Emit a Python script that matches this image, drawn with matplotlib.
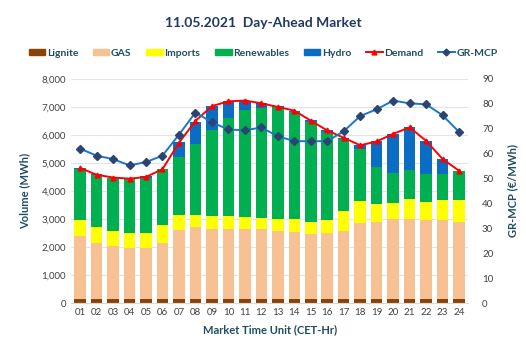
import matplotlib.pyplot as plt
import numpy as np
from matplotlib.lines import Line2D
from matplotlib.patches import Patch

hours = ["%02d" % h for h in range(1, 25)]

# cumulative tops (MWh)
lignite = [150] * 24
gas_top = [2410, 2150, 2030, 1950, 1950, 2150, 2620, 2700, 2660, 2650, 2650, 2650,
           2560, 2540, 2470, 2500, 2570, 2870, 2890, 3000, 3000, 2980, 2970, 2890]
imp_top = [2980, 2700, 2570, 2490, 2510, 2770, 3140, 3140, 3100, 3100, 3080, 3020,
           3000, 3000, 2900, 2950, 3290, 3630, 3540, 3570, 3710, 3590, 3690, 3670]
ren_top = [4800, 4580, 4470, 4420, 4470, 4790, 5230, 5680, 6180, 6620, 6880, 6960,
           6990, 6810, 6460, 6110, 5870, 5490, 4860, 4640, 4740, 4600, 4610, 4710]
hyd_top = [4820, 4590, 4480, 4430, 4520, 4800, 5740, 6480, 7040, 7210, 7230, 7130,
           7020, 6870, 6520, 6160, 5900, 5650, 5770, 6040, 6270, 5790, 5140, 4720]
demand = [4820, 4580, 4480, 4440, 4500, 4780, 5720, 6500, 7030, 7200, 7230, 7130,
          7000, 6870, 6510, 6160, 5900, 5630, 5770, 6040, 6270, 5790, 5140, 4720]
mcp = [62.0, 59.2, 57.8, 55.3, 56.6, 59.2, 67.6, 76.5, 72.6, 69.7, 69.4, 70.5,
       67.0, 65.0, 65.0, 65.0, 69.0, 75.1, 77.8, 81.3, 80.2, 79.8, 75.4, 68.7]

lignite = np.array(lignite)
gas = np.array(gas_top) - lignite
imports = np.array(imp_top) - np.array(gas_top)
renew = np.array(ren_top) - np.array(imp_top)
hydro = np.array(hyd_top) - np.array(ren_top)

c_lig = "#8B4408"
c_gas = "#F8C194"
c_imp = "#FFFF00"
c_ren = "#00B050"
c_hyd = "#0A6CC2"
c_dem = "#FF0000"
c_mcp_line = "#1878C8"
c_mcp_mark = "#2B4470"
txt = "#1F4E5F"

plt.rcParams["font.family"] = ["Lato", "DejaVu Sans"]

fig = plt.figure(figsize=(5.26, 3.54), dpi=100)
ax = fig.add_axes([0.135, 0.144, 0.755, 0.633])
x = np.arange(24)
w = 0.7

bottom = np.zeros(24)
for vals, col in [(lignite, c_lig), (gas, c_gas), (imports, c_imp), (renew, c_ren), (hydro, c_hyd)]:
    ax.bar(x, vals, w, bottom=bottom, color=col, zorder=2)
    bottom = bottom + vals

ax.plot(x, demand, color=c_dem, lw=1.4, marker="^", ms=3.5, zorder=4)

ax.set_ylim(0, 8000)
ax.set_xlim(-0.55, 23.55)
ax.set_yticks(range(0, 8001, 1000))
ax.set_yticklabels(["{:,}".format(v) for v in range(0, 8001, 1000)])
ax.set_xticks(x)
ax.set_xticklabels(hours)
ax.grid(axis="y", color="#E3E3E3", lw=0.8, zorder=0)
for s in ["top", "right", "left"]:
    ax.spines[s].set_visible(False)
ax.spines["bottom"].set_color("#D9D9D9")
ax.tick_params(length=0, labelsize=7, colors="#404040")
ax.set_ylabel("Volume (MWh)", fontsize=8, fontweight="bold", color=txt, labelpad=8)
ax.set_xlabel("Market Time Unit (CET-Hr)", fontsize=8, fontweight="bold", color=txt, labelpad=5)

ax2 = ax.twinx()
ax2.plot(x, mcp, color=c_mcp_line, lw=1.4, marker="D", ms=3.8,
         mfc=c_mcp_mark, mec=c_mcp_mark, zorder=5)
ax2.set_ylim(0, 90)
ax2.set_yticks(range(0, 91, 10))
for s in ["top", "right", "left", "bottom"]:
    ax2.spines[s].set_visible(False)
ax2.tick_params(length=0, labelsize=7, colors="#404040", pad=10)
ax2.set_ylabel("GR-MCP (\u20ac/MWh)", fontsize=8, fontweight="bold", color=txt, labelpad=10)

fig.text(0.5, 0.935, "11.05.2021  Day-Ahead Market", ha="center", va="center",
         fontsize=10, fontweight="bold", color="#1F3864")

handles = [Patch(color=c_lig, label="Lignite"), Patch(color=c_gas, label="GAS"),
           Patch(color=c_imp, label="Imports"), Patch(color=c_ren, label="Renewables"),
           Patch(color=c_hyd, label="Hydro"),
           Line2D([], [], color=c_dem, marker="^", ms=3.5, lw=1.4, label="Demand"),
           Line2D([], [], color=c_mcp_line, marker="D", ms=3.5, mfc=c_mcp_mark,
                  mec=c_mcp_mark, lw=1.4, label="GR-MCP")]
leg = fig.legend(handles=handles, loc="center", bbox_to_anchor=(0.5, 0.85), ncol=7,
                 frameon=False, fontsize=7.5, handlelength=1.6, handleheight=0.55,
                 handletextpad=0.15, columnspacing=1.4)
for t in leg.get_texts():
    t.set_color(txt)
    t.set_fontweight("bold")

fig.savefig("out.png", dpi=100)
